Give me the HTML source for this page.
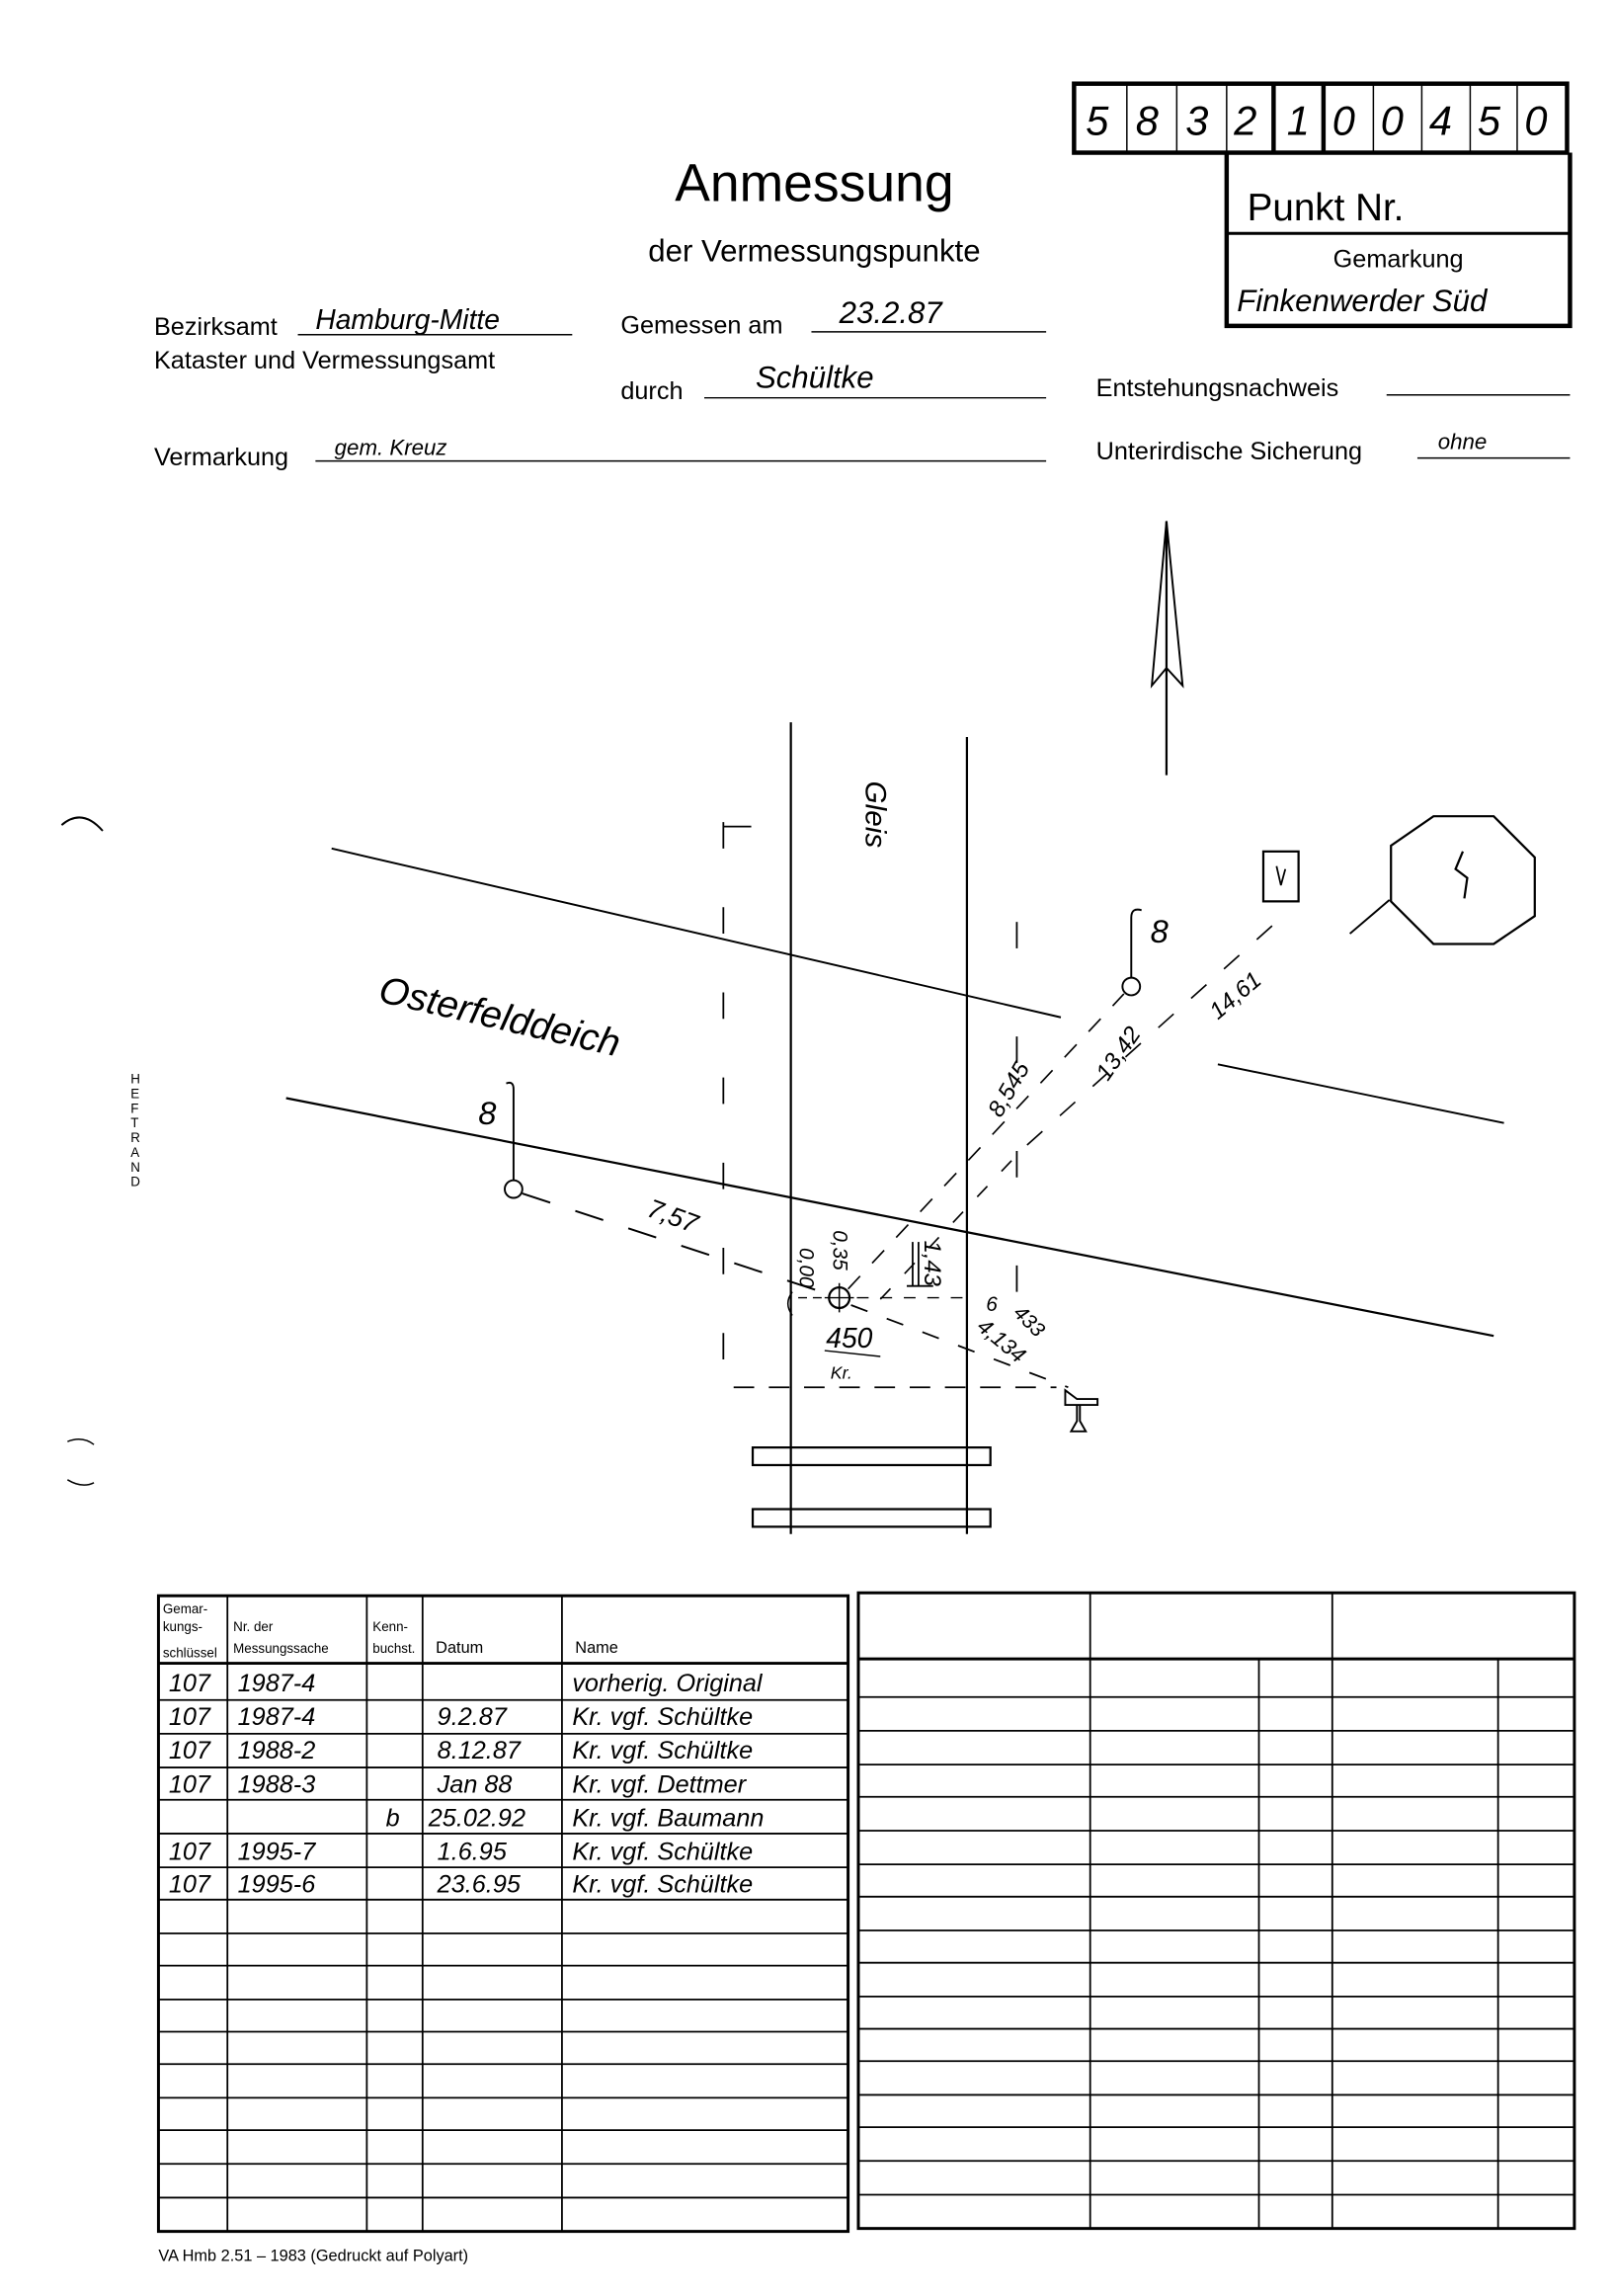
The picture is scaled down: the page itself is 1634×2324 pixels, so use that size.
<!DOCTYPE html>
<html><head><meta charset="utf-8"><style>
html,body{margin:0;padding:0;background:#fff}
svg{display:block}
text{font-family:"Liberation Sans",sans-serif;fill:#000}
.h{font-family:"Liberation Sans",sans-serif;font-style:italic}
</style></head><body>
<svg width="1634" height="2324" viewBox="0 0 1100 1564" preserveAspectRatio="none" xmlns="http://www.w3.org/2000/svg">
<rect width="1100" height="1564" fill="#fff"/>
<g stroke="#000" fill="none">
<rect x="732" y="57" width="336" height="47" stroke-width="3"/>
<g stroke-width="1"><line x1="768" y1="57" x2="768" y2="104"/><line x1="802" y1="57" x2="802" y2="104"/><line x1="836" y1="57" x2="836" y2="104"/><line x1="936" y1="57" x2="936" y2="104"/><line x1="969" y1="57" x2="969" y2="104"/><line x1="1002" y1="57" x2="1002" y2="104"/><line x1="1034" y1="57" x2="1034" y2="104"/></g>
<line x1="868" y1="57" x2="868" y2="104" stroke-width="3"/><line x1="902" y1="57" x2="902" y2="104" stroke-width="3"/>
<path d="M836 104 V222 H1070 V104" stroke-width="3"/>
<line x1="836" y1="159" x2="1070" y2="159" stroke-width="2"/>
<g stroke-width="1"><line x1="203" y1="228" x2="390" y2="228"/><line x1="553" y1="226" x2="713" y2="226"/><line x1="480" y1="271" x2="713" y2="271"/><line x1="945" y1="269" x2="1070" y2="269"/><line x1="215" y1="314" x2="713" y2="314"/><line x1="966" y1="312" x2="1070" y2="312"/></g>
<line x1="795" y1="355" x2="795" y2="528" stroke-width="1.5"/>
<path d="M795 355 L806 467 L795 455 L785 467 Z" stroke-width="1.3"/>
<line x1="539" y1="492" x2="539" y2="1045" stroke-width="1.5"/>
<line x1="659" y1="502" x2="659" y2="1045" stroke-width="1.5"/>
<line x1="493" y1="560" x2="493" y2="945" stroke-width="1.2" stroke-dasharray="18,40"/>
<line x1="493" y1="563" x2="512" y2="563" stroke-width="1.2"/>
<line x1="693" y1="628" x2="693" y2="935" stroke-width="1.2" stroke-dasharray="18,60"/>
<line x1="500" y1="945" x2="720" y2="945" stroke-width="1.2" stroke-dasharray="14,10"/>
<line x1="226" y1="578" x2="723" y2="693" stroke-width="1.3"/>
<line x1="830" y1="725" x2="1025" y2="765" stroke-width="1.3"/>
<line x1="195" y1="748" x2="1018" y2="910" stroke-width="1.5"/>
<circle cx="350" cy="810" r="6" stroke-width="1.3"/>
<path d="M350 804 V742 Q350 736 345 738" stroke-width="1.3"/>
<line x1="356" y1="813" x2="566" y2="882" stroke-width="1.3" stroke-dasharray="20,18"/>
<circle cx="572" cy="884" r="7" stroke-width="1.5"/>
<path d="M562 884 H582 M572 874 V894" stroke-width="1"/>
<line x1="578" y1="878" x2="766" y2="677" stroke-width="1.1" stroke-dasharray="12,12"/>
<line x1="600" y1="885" x2="690" y2="790" stroke-width="1.1" stroke-dasharray="10,14"/>
<line x1="700" y1="780" x2="870" y2="628" stroke-width="1.1" stroke-dasharray="14,16"/>
<circle cx="771" cy="672" r="6" stroke-width="1.3"/>
<path d="M771 666 V625 Q771 618 778 620" stroke-width="1.3"/>
<line x1="580" y1="889" x2="728" y2="945" stroke-width="1.2" stroke-dasharray="12,14"/>
<line x1="544" y1="884" x2="560" y2="884" stroke-width="1" stroke-dasharray="6,4"/>
<line x1="584" y1="884" x2="660" y2="884" stroke-width="1" stroke-dasharray="8,8"/>
<path d="M540 880 Q534 888 540 896" stroke-width="1"/>
<line x1="618" y1="876" x2="636" y2="876" stroke-width="1.2"/><line x1="622" y1="846" x2="622" y2="876" stroke-width="1.2"/><line x1="626" y1="846" x2="626" y2="876" stroke-width="1.2"/>
<line x1="562" y1="920" x2="600" y2="924" stroke-width="1"/>
<path d="M726 947 L734 953 H748 V957 H726 Z M734 957 V968 L730 975 H740 L736 968 V957" stroke-width="1.3"/>
<rect x="513" y="986" width="162" height="12" stroke-width="1.5"/>
<rect x="513" y="1028" width="162" height="12" stroke-width="1.5"/>
<polygon points="977,556 1018,556 1046,584 1046,624 1018,643 977,643 948,614 948,576" stroke-width="1.5"/>
<line x1="920" y1="636" x2="947" y2="613" stroke-width="1.3"/>
<path d="M997 580 L992 592 L1000 598 L998 612" stroke-width="1.5"/>
<rect x="861" y="580" width="24" height="34" stroke-width="1.5"/>
<path d="M870 590 L873 603 L876 592" stroke-width="1.2"/>
<path d="M42 562 Q56 550 70 566" stroke-width="1.3"/>
<path d="M46 982 Q56 978 64 984 M46 1008 Q56 1014 64 1010" stroke-width="1"/>
<rect x="108" y="1087" width="470" height="433" stroke-width="2"/>
<g stroke-width="1.2">
<line x1="155" y1="1087" x2="155" y2="1520"/><line x1="250" y1="1087" x2="250" y2="1520"/><line x1="288" y1="1087" x2="288" y2="1520"/><line x1="383" y1="1087" x2="383" y2="1520"/>
</g>
<line x1="108" y1="1133" x2="578" y2="1133" stroke-width="2"/>
<g stroke-width="1.2">
<line x1="108" y1="1158" x2="578" y2="1158"/><line x1="108" y1="1181" x2="578" y2="1181"/><line x1="108" y1="1204" x2="578" y2="1204"/><line x1="108" y1="1226" x2="578" y2="1226"/><line x1="108" y1="1249" x2="578" y2="1249"/><line x1="108" y1="1272" x2="578" y2="1272"/><line x1="108" y1="1294" x2="578" y2="1294"/><line x1="108" y1="1317" x2="578" y2="1317"/><line x1="108" y1="1339" x2="578" y2="1339"/><line x1="108" y1="1362" x2="578" y2="1362"/><line x1="108" y1="1384" x2="578" y2="1384"/><line x1="108" y1="1406" x2="578" y2="1406"/><line x1="108" y1="1429" x2="578" y2="1429"/><line x1="108" y1="1451" x2="578" y2="1451"/><line x1="108" y1="1474" x2="578" y2="1474"/><line x1="108" y1="1497" x2="578" y2="1497"/>
</g>
<rect x="585" y="1085" width="488" height="433" stroke-width="2"/>
<line x1="585" y1="1130" x2="1073" y2="1130" stroke-width="2"/>
<g stroke-width="1.2">
<line x1="743" y1="1085" x2="743" y2="1518"/><line x1="908" y1="1085" x2="908" y2="1518"/><line x1="858" y1="1130" x2="858" y2="1518"/><line x1="1021" y1="1130" x2="1021" y2="1518"/>
<line x1="585" y1="1156" x2="1073" y2="1156"/><line x1="585" y1="1179" x2="1073" y2="1179"/><line x1="585" y1="1202" x2="1073" y2="1202"/><line x1="585" y1="1224" x2="1073" y2="1224"/><line x1="585" y1="1247" x2="1073" y2="1247"/><line x1="585" y1="1270" x2="1073" y2="1270"/><line x1="585" y1="1292" x2="1073" y2="1292"/><line x1="585" y1="1315" x2="1073" y2="1315"/><line x1="585" y1="1337" x2="1073" y2="1337"/><line x1="585" y1="1360" x2="1073" y2="1360"/><line x1="585" y1="1382" x2="1073" y2="1382"/><line x1="585" y1="1404" x2="1073" y2="1404"/><line x1="585" y1="1427" x2="1073" y2="1427"/><line x1="585" y1="1449" x2="1073" y2="1449"/><line x1="585" y1="1472" x2="1073" y2="1472"/><line x1="585" y1="1495" x2="1073" y2="1495"/>
</g>
</g>
<g class="h" font-size="28">
<text x="740" y="92">5</text><text x="774" y="92">8</text><text x="808" y="92">3</text><text x="841" y="92">2</text><text x="877" y="92">1</text><text x="908" y="92">0</text><text x="941" y="92">0</text><text x="974" y="92">4</text><text x="1007" y="92">5</text><text x="1039" y="92">0</text>
</g>
<text x="850" y="150" font-size="26">Punkt Nr.</text>
<text x="953" y="182" font-size="17" text-anchor="middle">Gemarkung</text>
<text x="843" y="212" class="h" font-size="21">Finkenwerder Süd</text>
<text x="555" y="137" font-size="36" text-anchor="middle">Anmessung</text>
<text x="555" y="178" font-size="21" text-anchor="middle">der Vermessungspunkte</text>
<text x="105" y="228" font-size="17">Bezirksamt</text>
<text x="215" y="224" class="h" font-size="19">Hamburg-Mitte</text>
<text x="105" y="251" font-size="17">Kataster und Vermessungsamt</text>
<text x="423" y="227" font-size="17">Gemessen am</text>
<text x="572" y="220" class="h" font-size="21">23.2.87</text>
<text x="423" y="272" font-size="17">durch</text>
<text x="515" y="264" class="h" font-size="21">Schültke</text>
<text x="747" y="270" font-size="17">Entstehungsnachweis</text>
<text x="105" y="317" font-size="17">Vermarkung</text>
<text x="228" y="310" class="h" font-size="15">gem. Kreuz</text>
<text x="747" y="313" font-size="17">Unterirdische Sicherung</text>
<text x="980" y="306" class="h" font-size="15">ohne</text>
<text class="h" font-size="26" transform="translate(257,682) rotate(13)">Osterfelddeich</text>
<text class="h" font-size="20" transform="translate(590,532) rotate(90)">Gleis</text>
<text class="h" font-size="22" x="326" y="766">8</text>
<text class="h" font-size="22" x="784" y="642">8</text>
<text class="h" font-size="18" transform="translate(440,828) rotate(20)">7,57</text>
<text class="h" font-size="16" transform="translate(682,762) rotate(-60)">8,545</text>
<text class="h" font-size="16" transform="translate(755,737) rotate(-55)">13,42</text>
<text class="h" font-size="16" transform="translate(830,695) rotate(-40)">14,61</text>
<text class="h" font-size="14" transform="translate(545,850) rotate(90)">0,00</text>
<text class="h" font-size="14" transform="translate(568,838) rotate(90)">0,35</text>
<text class="h" font-size="16" transform="translate(630,845) rotate(90)">1,43</text>
<text class="h" font-size="14" x="672" y="893">6</text>
<text class="h" font-size="14" transform="translate(690,895) rotate(45)">433</text>
<text class="h" font-size="15" transform="translate(665,905) rotate(40)">4,134</text>
<text class="h" font-size="19" x="563" y="918">450</text>
<text class="h" font-size="12" x="566" y="939">Kr.</text>
<g font-size="9"><text x="89" y="738">H</text><text x="89" y="748">E</text><text x="89" y="758">F</text><text x="89" y="768">T</text><text x="89" y="778">R</text><text x="89" y="788">A</text><text x="89" y="798">N</text><text x="89" y="808">D</text></g>
<g font-size="9">
<text x="111" y="1099">Gemar-</text><text x="111" y="1111">kungs-</text><text x="111" y="1129">schlüssel</text>
<text x="159" y="1111">Nr. der</text><text x="159" y="1126">Messungssache</text>
<text x="254" y="1111">Kenn-</text><text x="254" y="1126">buchst.</text>
<text x="297" y="1126" font-size="11">Datum</text>
<text x="392" y="1126" font-size="11">Name</text>
</g>
<g class="h" font-size="17">
<text x="115" y="1152">107</text><text x="162" y="1152">1987-4</text><text x="390" y="1152">vorherig. Original</text>
<text x="115" y="1175">107</text><text x="162" y="1175">1987-4</text><text x="298" y="1175">9.2.87</text><text x="390" y="1175">Kr. vgf. Schültke</text>
<text x="115" y="1198">107</text><text x="162" y="1198">1988-2</text><text x="298" y="1198">8.12.87</text><text x="390" y="1198">Kr. vgf. Schültke</text>
<text x="115" y="1221">107</text><text x="162" y="1221">1988-3</text><text x="298" y="1221">Jan 88</text><text x="390" y="1221">Kr. vgf. Dettmer</text>
<text x="263" y="1244">b</text><text x="292" y="1244">25.02.92</text><text x="390" y="1244">Kr. vgf. Baumann</text>
<text x="115" y="1267">107</text><text x="162" y="1267">1995-7</text><text x="298" y="1267">1.6.95</text><text x="390" y="1267">Kr. vgf. Schültke</text>
<text x="115" y="1289">107</text><text x="162" y="1289">1995-6</text><text x="298" y="1289">23.6.95</text><text x="390" y="1289">Kr. vgf. Schültke</text>
</g>
<text x="108" y="1540" font-size="11">VA Hmb 2.51 – 1983 (Gedruckt auf Polyart)</text>
</svg>
</body></html>
